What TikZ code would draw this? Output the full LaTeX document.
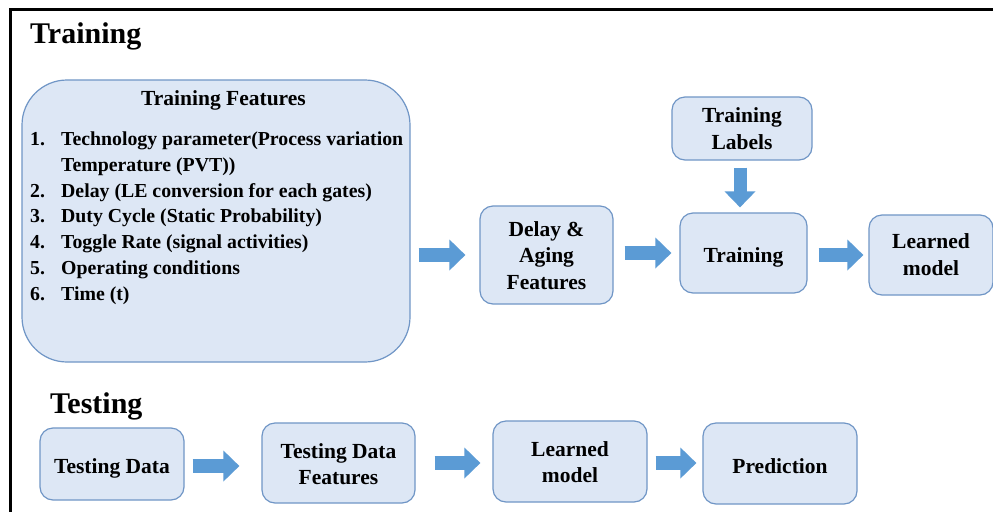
\documentclass[tikz,border=0pt]{standalone}
\usepackage{fontspec}
\setmainfont{Liberation Serif}
\usetikzlibrary{arrows.meta}
\definecolor{boxfill}{RGB}{221,231,245}
\definecolor{boxline}{RGB}{112,150,198}
\definecolor{arrowblue}{RGB}{91,155,213}
\tikzset{
  stepbox/.style={draw=boxline, fill=boxfill, line width=1.2pt, rounded corners=13pt, inner sep=0pt},
  % anchor=base sits on the baseline of the last text line
  boxtext/.style={align=center, inner sep=0pt, anchor=base, font=\fontsize{21.5}{26.5}\selectfont\bfseries},
  blockarrow/.style={draw=arrowblue, line width=14pt,
    -{Triangle[length=16pt,width=30pt]}},
  heading/.style={font=\fontsize{30}{32}\selectfont\bfseries, inner sep=0pt, anchor=base west}
}
\begin{document}
\begin{tikzpicture}[x=1pt,y=-1pt]
\useasboundingbox (0,0) rectangle (993,512);
\fill[white] (0,0) rectangle (993,512);
% outer frame (top and left edges)
\draw[line width=3pt] (993,9) -- (10,9) -- (10,512);

% section headings
\node[heading] (trainhead) at (30,43.5) {Training};
\node[heading] (testhead) at (50,413) {Testing};

% training features panel
\node[stepbox, rounded corners=45pt, minimum width=388pt, minimum height=282pt] (tf) at (216,221) {};
\node[boxtext] (tfhead) at (223.5,105) {Training Features};
\node[font=\fontsize{19.8}{25.67}\selectfont\bfseries, inner sep=0pt, anchor=base west, align=left] (tflist) at (30,300)
{\makebox[31pt][l]{1.}Technology parameter(Process variation\\
 \hspace*{31pt}Temperature (PVT))\\
 \makebox[31pt][l]{2.}Delay (LE conversion for each gates)\\
 \makebox[31pt][l]{3.}Duty Cycle (Static Probability)\\
 \makebox[31pt][l]{4.}Toggle Rate (signal activities)\\
 \makebox[31pt][l]{5.}Operating conditions\\
 \makebox[31pt][l]{6.}Time (t)};

% training pipeline
\node[stepbox, minimum width=133pt, minimum height=98pt] (da) at (546.5,255) {};
\node[boxtext] (datext) at ([yshift=-34pt]da.center) {Delay \&\\Aging\\Features};
\node[stepbox, minimum width=140pt, minimum height=63pt] (tl) at (742,128.5) {};
\node[boxtext] (tltext) at ([yshift=-20.5pt]tl.center) {Training\\Labels};
\node[stepbox, minimum width=127pt, minimum height=80pt] (tr) at (743.5,253) {};
\node[boxtext] (trtext) at ([yshift=-9.5pt]tr.center) {Training};
\node[stepbox, minimum width=124pt, minimum height=80pt] (lm) at (931,255) {};
\node[boxtext] (lmtext) at ([yshift=-20pt]lm.center) {Learned\\model};

% testing pipeline
\node[stepbox, minimum width=144pt, minimum height=72pt] (td) at (112,464) {};
\node[boxtext] (tdtext) at ([yshift=-9.5pt]td.center) {Testing Data};
\node[stepbox, minimum width=153pt, minimum height=80pt] (tdf) at (338.5,463) {};
\node[boxtext] (tdftext) at ([yshift=-21.5pt]tdf.center) {Testing Data\\Features};
\node[stepbox, minimum width=154pt, minimum height=81pt] (lm2) at (570,461.5) {};
\node[boxtext] (lm2text) at ([yshift=-21pt]lm2.center) {Learned\\model};
\node[stepbox, minimum width=154pt, minimum height=81pt] (pred) at (780,463.5) {};
\node[boxtext] (predtext) at ([yshift=-9.5pt]pred.center) {Prediction};

% block arrows, training
\draw[blockarrow, shorten <=8pt, shorten >=14pt] (tf.east |- da.west) -- (da.west);
\draw[blockarrow, shorten <=11pt, shorten >=8pt] (da.east |- tr.west) -- (tr.west);
\draw[blockarrow, shorten <=11pt, shorten >=5pt] (tr.east |- lm.west) -- (lm.west);
\draw[blockarrow, line width=13pt, shorten <=7pt, shorten >=5pt] (tl.south -| 740,0) -- (tr.north -| 740,0);

% block arrows, testing
\draw[blockarrow, shorten <=8pt, shorten >=22pt] (td.east |- 0,466) -- (tdf.west |- 0,466);
\draw[blockarrow, shorten <=19pt, shorten >=12pt] (tdf.east |- 0,463) -- (lm2.west |- 0,463);
\draw[blockarrow, shorten <=8pt, shorten >=6pt] (lm2.east |- 0,463) -- (pred.west |- 0,463);
\end{tikzpicture}
\end{document}
